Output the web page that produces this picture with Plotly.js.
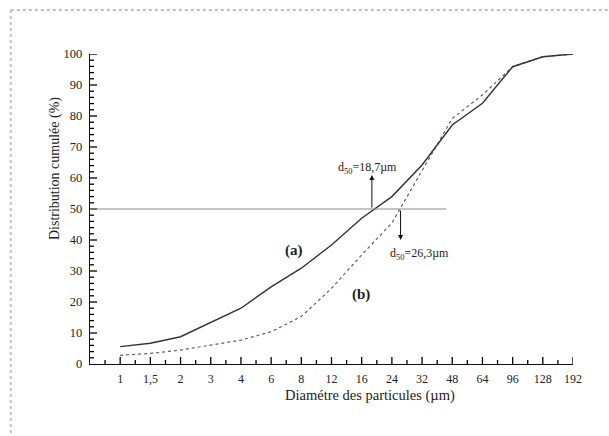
<!DOCTYPE html>
<html>
<head>
<meta charset="utf-8">
<script src="https://cdn.plot.ly/plotly-3.0.1.min.js"></script>
<style>
  html, body { margin: 0; padding: 0; background: #fff; }
  #chart { width: 609px; height: 436px; }
</style>
</head>
<body>
<div id="chart"></div>
<script>
// ---- data ----
const categories = ["1", "1,5", "2", "3", "4", "6", "8", "12", "16", "24", "32", "48", "64", "96", "128", "192"];
const diameters = [1, 1.5, 2, 3, 4, 6, 8, 12, 16, 24, 32, 48, 64, 96, 128, 192];
const seriesA = [5.6, 6.7, 8.8, 13.3, 18.0, 24.9, 30.9, 38.4, 47.0, 54.0, 64.2, 77.1, 84.1, 95.9, 99.1, 100];
const seriesB = [2.8, 3.4, 4.5, 6.1, 7.7, 10.4, 15.3, 24.4, 35.2, 45.5, 62.5, 79.2, 86.8, 95.9, 99.1, 100];
const refLevel = 50;
const d50A = 18.7;
const d50B = 26.3;

// ---- helpers ----
const idx = categories.map((c, i) => i);
function catPos(d) {
  for (let i = 0; i < diameters.length - 1; i++) {
    if (d >= diameters[i] && d <= diameters[i + 1]) {
      return i + (d - diameters[i]) / (diameters[i + 1] - diameters[i]);
    }
  }
  return 0;
}
const xA = catPos(d50A);
const xB = catPos(d50B);
const serif = '"Liberation Serif", "Times New Roman", serif';

const W = 609, H = 436, M = { l: 90, r: 36, t: 54, b: 72 };
const yRange = [0, 100];
const xRange = [-1, 15];
const yUnitsPerPx = (yRange[1] - yRange[0]) / (H - M.t - M.b);
const xUnitsPerPx = (xRange[1] - xRange[0]) / (W - M.l - M.r);

// tick marks as one segmented line trace (majors on categories / every 10 %, minors half-way / every 2 %)
const tickX = [], tickY = [];
const xMinor = [-0.5].concat(idx.map(i => i + 0.5)).filter(v => v < 15);
function vTick(v, len) { tickX.push(v, v, null); tickY.push(yRange[0], yRange[0] + len * yUnitsPerPx, null); }
function hTick(v, len) { tickX.push(xRange[0], xRange[0] + len * xUnitsPerPx, null); tickY.push(v, v, null); }
idx.forEach(v => vTick(v, 7));
xMinor.forEach(v => vTick(v, 4));
for (let v = 2; v <= 100; v += 2) hTick(v, v % 10 === 0 ? 7 : 4);

const traces = [
  { x: tickX, y: tickY, mode: "lines", connectgaps: false, line: { color: "#000", width: 1.3 },
    hoverinfo: "skip", cliponaxis: false },
  { x: idx, y: seriesB, mode: "lines", line: { color: "#6a5a5a", width: 1.2, dash: "dot" }, hoverinfo: "skip" },
  { x: idx, y: seriesA, mode: "lines", line: { color: "#333", width: 1.4 }, hoverinfo: "skip" }
];

const fmt = v => String(v).replace(".", ",");

const layout = {
  width: W, height: H,
  margin: M,
  paper_bgcolor: "#fff", plot_bgcolor: "#fff",
  showlegend: false,
  font: { family: serif, color: "#222", size: 12 },
  xaxis: {
    range: xRange, zeroline: false, showgrid: false,
    showline: true, linecolor: "#111", linewidth: 1.2,
    tickmode: "array", tickvals: idx, ticktext: categories,
    ticks: "", ticklabelstandoff: 3,
    tickfont: { family: serif, size: 12, color: "#222" }
  },
  yaxis: {
    range: yRange, zeroline: false, showgrid: false,
    showline: true, linecolor: "#111", linewidth: 1.2,
    tickmode: "linear", tick0: 0, dtick: 10,
    ticks: "", ticklabelstandoff: 4,
    tickfont: { family: serif, size: 12.5, color: "#222" }
  },
  shapes: [
    { type: "line", xref: "x", yref: "y", x0: xRange[0], x1: 10.8, y0: refLevel, y1: refLevel,
      line: { color: "#8a8a8a", width: 1.2 } },
    { type: "line", xref: "paper", yref: "paper", x0: -0.164, x1: 1.08, y0: 1.142, y1: 1.142,
      line: { color: "#c0c0c0", width: 2, dash: "dot" } },
    { type: "line", xref: "paper", yref: "paper", x0: -0.164, x1: -0.164, y0: 1.142, y1: -0.25,
      line: { color: "#c0c0c0", width: 2, dash: "dot" } }
  ],
  annotations: [
    { xref: "paper", yref: "paper", x: 0.58, y: -0.103, xanchor: "center", yanchor: "middle",
      text: "Diamétre des particules (µm)",
      showarrow: false, font: { family: serif, size: 14.5, color: "#222" } },
    { xref: "paper", yref: "paper", x: -0.0725, y: 0.632, xanchor: "center", yanchor: "middle",
      text: "Distribution cumulée (%)",
      textangle: -90, showarrow: false, font: { family: serif, size: 14, color: "#222" } },
    { x: xA, y: 61, ax: xA, ay: refLevel, axref: "x", ayref: "y", xref: "x", yref: "y",
      text: "", showarrow: true, arrowhead: 2, arrowsize: 1, arrowwidth: 1, arrowcolor: "#111" },
    { x: xB, y: 40, ax: xB, ay: refLevel, axref: "x", ayref: "y", xref: "x", yref: "y",
      text: "", showarrow: true, arrowhead: 2, arrowsize: 1, arrowwidth: 1, arrowcolor: "#111" },
    { x: 8.19, y: 63.2, xref: "x", yref: "y", showarrow: false,
      text: "d<sub>50</sub>=" + fmt(d50A) + "µm", font: { family: serif, size: 12, color: "#222" } },
    { x: 9.91, y: 35.5, xref: "x", yref: "y", showarrow: false,
      text: "d<sub>50</sub>=" + fmt(d50B) + "µm", font: { family: serif, size: 12, color: "#222" } },
    { x: 5.77, y: 36.6, xref: "x", yref: "y", showarrow: false,
      text: "<b>(a)</b>", font: { family: serif, size: 15, color: "#222" } },
    { x: 7.98, y: 22.3, xref: "x", yref: "y", showarrow: false,
      text: "<b>(b)</b>", font: { family: serif, size: 15, color: "#222" } }
  ]
};

Plotly.newPlot("chart", traces, layout, { staticPlot: true, displayModeBar: false });
</script>
</body>
</html>
